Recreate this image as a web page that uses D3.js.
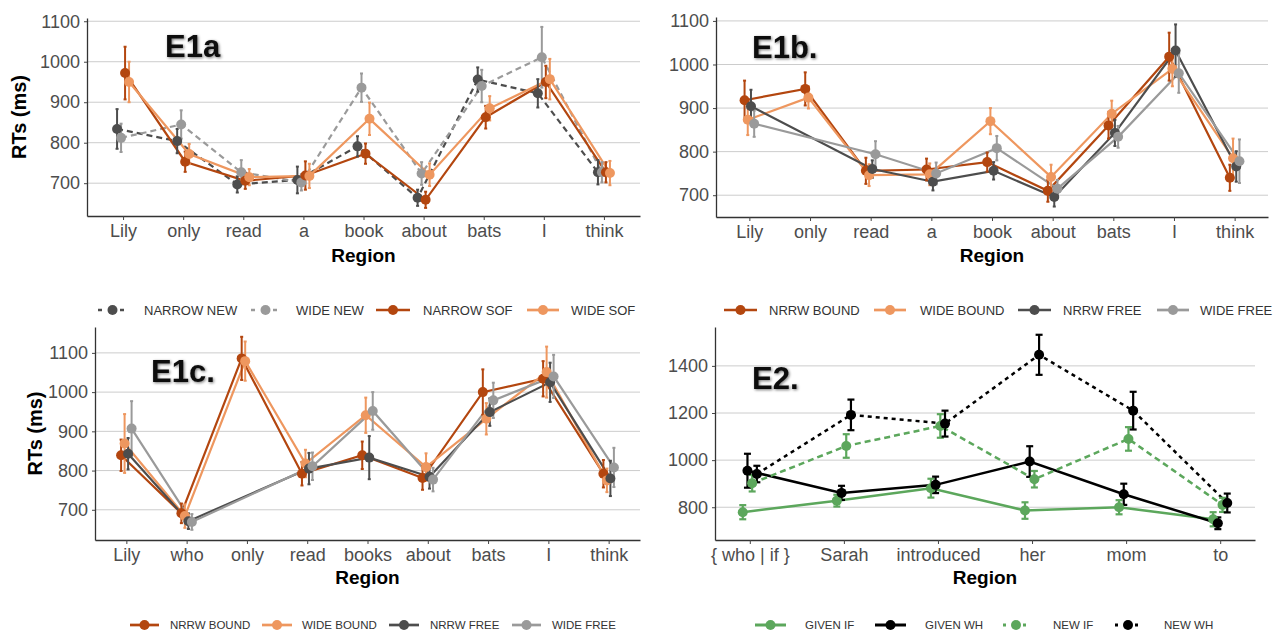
<!DOCTYPE html>
<html>
<head>
<meta charset="utf-8">
<script src="https://cdn.jsdelivr.net/npm/d3@7"></script>
<style>
body { margin: 0; background: #fff; }
text { font-family: "Liberation Sans", Arial, sans-serif; }
</style>
</head>
<body>
<svg id="chart" width="1273" height="633"></svg>
<script>
// ---- E1a ----
var e1aRegions = ["Lily", "only", "read", "a", "book", "about", "bats", "I", "think"];
var e1aNarrowNew    = [834, 804, 697, 708, 791, 664, 956, 922, 727];
var e1aNarrowNewErr = [49, 30, 20, 33, 25, 20, 30, 35, 30];
var e1aWideNew      = [812, 845, 727, 702, 936, 724, 940, 1011, 727];
var e1aWideNewErr   = [35, 35, 30, 20, 35, 28, 40, 75, 25];
var e1aNarrowSof    = [972, 753, 706, 719, 773, 659, 863, 950, 727];
var e1aNarrowSofErr = [65, 25, 20, 35, 25, 20, 28, 40, 25];
var e1aWideSof      = [950, 772, 715, 718, 859, 721, 885, 957, 725];
var e1aWideSofErr   = [50, 25, 20, 30, 40, 28, 30, 50, 30];

// ---- E1b ----
var e1bRegions = ["Lily", "only", "read", "a", "book", "about", "bats", "I", "think"];
var e1bNrrwBound    = [918, 944, 756, 759, 776, 710, 860, 1018, 740];
var e1bNrrwBoundErr = [45, 38, 30, 25, 22, 25, 30, 55, 30];
var e1bWideBound    = [873, 924, 746, 748, 870, 742, 887, 990, 785];
var e1bWideBoundErr = [35, 25, 25, 25, 30, 28, 30, 40, 45];
var e1bNrrwFree     = [904, null, 760, 731, 756, 696, 843, 1032, 766];
var e1bNrrwFreeErr  = [38, null, 20, 20, 20, 22, 30, 60, 35];
var e1bWideFree     = [864, null, 794, 750, 808, 715, 834, 980, 778];
var e1bWideFreeErr  = [30, null, 30, 25, 28, 20, 25, 45, 50];

// ---- E1c ----
var e1cRegions = ["Lily", "who", "only", "read", "books", "about", "bats", "I", "think"];
var e1cNrrwBound    = [839, 691, 1086, 792, 839, 781, 1000, 1034, 792];
var e1cNrrwBoundErr = [40, 25, 55, 30, 35, 30, 58, 45, 35];
var e1cWideBound    = [869, 684, 1079, 818, 941, 809, 932, 1051, 775];
var e1cWideBoundErr = [75, 30, 50, 35, 45, 35, 40, 65, 30];
var e1cNrrwFree     = [843, 671, null, 805, 833, 784, 949, 1025, 780];
var e1cNrrwFreeErr  = [40, 20, null, 40, 55, 30, 35, 50, 45];
var e1cWideFree     = [907, 669, null, 811, 952, 777, 979, 1040, 808];
var e1cWideFreeErr  = [70, 20, null, 35, 48, 30, 45, 55, 50];

// ---- E2 ----
var e2Regions = ["{ who | if }", "Sarah", "introduced", "her", "mom", "to"];
var e2GivenIf     = [779, 828, 881, 786, 800, 749];
var e2GivenIfErr  = [30, 25, 40, 35, 30, 30];
var e2GivenWh     = [955, 861, 895, 994, 855, 732];
var e2GivenWhErr  = [72, 30, 35, 65, 45, 25];
var e2NewIf       = [902, 1060, 1145, 919, 1090, 810];
var e2NewIfErr    = [35, 50, 50, 35, 50, 30];
var e2NewWh       = [941, 1192, 1155, 1447, 1210, 818];
var e2NewWhErr    = [35, 65, 55, 85, 80, 40];

var e1Ticks = [700, 800, 900, 1000, 1100];
var e2Ticks = [800, 1000, 1200, 1400];

var darkOrange = "#b3460f";
var lightOrange = "#ee975f";
var darkGray = "#4d4d4d";
var lightGray = "#9a9a9a";
var green = "#5ca75c";

var svg = d3.select("#chart");
svg.append("rect").attr("width", 1273).attr("height", 633).attr("fill", "#fff");

var defs = svg.append("defs");
var f = defs.append("filter").attr("id", "glow").attr("x", "-20%").attr("y", "-20%").attr("width", "140%").attr("height", "140%");
f.append("feGaussianBlur").attr("in", "SourceAlpha").attr("stdDeviation", 1.6).attr("result", "b");
f.append("feOffset").attr("in", "b").attr("dx", 1).attr("dy", 1).attr("result", "o");
f.append("feComponentTransfer").attr("in", "o").attr("result", "s")
  .append("feFuncA").attr("type", "linear").attr("slope", 0.55);
var fm = f.append("feMerge");
fm.append("feMergeNode").attr("in", "s");
fm.append("feMergeNode").attr("in", "SourceGraphic");

function drawPanel(p) {
  var g = svg.append("g");
  var x = d3.scalePoint().domain(p.regions).range([p.left, p.right]).padding(p.pad);
  var y = d3.scaleLinear().domain(p.yDomain).range([p.bottom, p.top]);

  // grid
  g.selectAll(".grid").data(p.yTicks).enter().append("line")
    .attr("x1", p.left).attr("x2", p.right)
    .attr("y1", d => y(d)).attr("y2", d => y(d))
    .attr("stroke", "#cccccc").attr("stroke-width", 1);

  // axes
  var xg = g.append("g").attr("transform", "translate(0," + p.bottom + ")")
    .call(d3.axisBottom(x).tickSize(4).tickPadding(4).tickSizeOuter(0));
  var yg = g.append("g").attr("transform", "translate(" + p.left + ",0)")
    .call(d3.axisLeft(y).tickValues(p.yTicks).tickFormat(d3.format("d")).tickSize(3).tickPadding(4).tickSizeOuter(0));
  [xg, yg].forEach(function(a) {
    a.select(".domain").attr("stroke", "#333").attr("stroke-width", 1.3);
    a.selectAll(".tick line").attr("stroke", "#444");
    a.selectAll(".tick text").attr("fill", "#4d4d4d").style("font-size", "18px");
  });

  var off = function(i) { return (i - (p.series.length - 1) / 2) * p.dodge; };

  var line = d3.line()
    .x(d => x(d.r) + d.o)
    .y(d => y(d.v));

  var rows = p.series.map(function(s, si) {
    return p.regions.map(function(r, i) {
      return { r: r, v: s.values[i], e: s.errs[i], o: off(si) };
    }).filter(d => d.v != null);
  });

  // lines (missing regions are skipped, the line joins the neighbours)
  p.series.forEach(function(s, si) {
    g.append("path")
      .datum(rows[si])
      .attr("d", line)
      .attr("fill", "none")
      .attr("stroke", s.color)
      .attr("stroke-width", p.lw)
      .attr("stroke-dasharray", s.dash || null);
  });

  // error bars
  p.series.forEach(function(s, si) {
    var eb = g.append("g").selectAll("g").data(rows[si]).enter().append("g");
    eb.append("line")
      .attr("x1", d => x(d.r) + d.o).attr("x2", d => x(d.r) + d.o)
      .attr("y1", d => y(d.v - d.e)).attr("y2", d => y(d.v + d.e))
      .attr("stroke", s.color).attr("stroke-width", p.ebw);
    [-1, 1].forEach(function(sign) {
      eb.append("line")
        .attr("x1", d => x(d.r) + d.o - p.cap).attr("x2", d => x(d.r) + d.o + p.cap)
        .attr("y1", d => y(d.v + sign * d.e)).attr("y2", d => y(d.v + sign * d.e))
        .attr("stroke", s.color).attr("stroke-width", p.ebw);
    });
  });

  // points
  p.series.forEach(function(s, si) {
    g.append("g").selectAll("circle").data(rows[si]).enter().append("circle")
      .attr("cx", d => x(d.r) + d.o)
      .attr("cy", d => y(d.v))
      .attr("r", p.pr)
      .attr("fill", s.color);
  });

  // panel title
  g.append("text").attr("x", p.titleX).attr("y", p.titleY)
    .attr("filter", "url(#glow)")
    .style("font-size", "31px").style("font-weight", "bold").attr("fill", "#111")
    .text(p.title);

  // axis titles
  g.append("text").attr("x", (p.left + p.right) / 2).attr("y", p.regionY)
    .attr("text-anchor", "middle").style("font-size", "19px").style("font-weight", "bold")
    .text("Region");
  if (p.ylab) {
    g.append("text")
      .attr("transform", "translate(" + p.ylabX + "," + ((p.top + p.bottom) / 2) + ") rotate(-90)")
      .attr("text-anchor", "middle").attr("dy", "0.35em")
      .style("font-size", "20px").style("font-weight", "bold")
      .text("RTs (ms)");
  }

  // legend
  var lg = g.append("g").attr("transform", "translate(0," + p.legendY + ")");
  p.series.forEach(function(s, si) {
    var it = p.legendX[si];
    lg.append("line").attr("x1", it[0]).attr("x2", it[1]).attr("y1", 0).attr("y2", 0)
      .attr("stroke", s.color).attr("stroke-width", p.lw + 0.5)
      .attr("stroke-dasharray", s.dash ? s.legendDash : null);
    lg.append("circle").attr("cx", (it[0] + it[1]) / 2).attr("cy", 0).attr("r", p.pr).attr("fill", s.color);
    lg.append("text").attr("x", it[2]).attr("y", 0).attr("dy", "0.36em")
      .style("font-size", p.legendFont + "px").attr("fill", "#333")
      .text(s.name);
  });
}

drawPanel({
  title: "E1a", titleX: 165, titleY: 57,
  regions: e1aRegions, left: 87, right: 640, pad: 0.6,
  top: 18, bottom: 216, yDomain: [619, 1108], yTicks: e1Ticks,
  dodge: 4, lw: 2.2, ebw: 2, cap: 1.5, pr: 5,
  regionY: 262, ylab: true, ylabX: 19,
  legendY: 310, legendFont: 13,
  legendX: [[98, 127, 144], [251, 280, 296], [376, 410, 423], [527, 559, 571]],
  series: [
    { name: "NARROW NEW", values: e1aNarrowNew, errs: e1aNarrowNewErr, color: darkGray, dash: "6,4", legendDash: "4,7" },
    { name: "WIDE NEW", values: e1aWideNew, errs: e1aWideNewErr, color: lightGray, dash: "6,4", legendDash: "4,7" },
    { name: "NARROW SOF", values: e1aNarrowSof, errs: e1aNarrowSofErr, color: darkOrange },
    { name: "WIDE SOF", values: e1aWideSof, errs: e1aWideSofErr, color: lightOrange }
  ]
});

drawPanel({
  title: "E1b.", titleX: 752, titleY: 58,
  regions: e1bRegions, left: 716, right: 1268, pad: 0.55,
  top: 17, bottom: 217, yDomain: [650, 1109], yTicks: e1Ticks,
  dodge: 3.2, lw: 2.2, ebw: 2, cap: 1.5, pr: 5,
  regionY: 262, ylab: false,
  legendY: 310, legendFont: 13,
  legendX: [[724, 757, 769], [874, 906, 920], [1018, 1051, 1063], [1157, 1189, 1200]],
  series: [
    { name: "NRRW BOUND", values: e1bNrrwBound, errs: e1bNrrwBoundErr, color: darkOrange },
    { name: "WIDE BOUND", values: e1bWideBound, errs: e1bWideBoundErr, color: lightOrange },
    { name: "NRRW FREE", values: e1bNrrwFree, errs: e1bNrrwFreeErr, color: darkGray },
    { name: "WIDE FREE", values: e1bWideFree, errs: e1bWideFreeErr, color: lightGray }
  ]
});

drawPanel({
  title: "E1c.", titleX: 151, titleY: 382,
  regions: e1cRegions, left: 95, right: 640, pad: 0.52,
  top: 327, bottom: 540, yDomain: [623, 1166], yTicks: e1Ticks,
  dodge: 3.5, lw: 2.2, ebw: 2, cap: 1.5, pr: 5,
  regionY: 584, ylab: true, ylabX: 35,
  legendY: 625, legendFont: 11.5,
  legendX: [[130, 159, 170], [262, 292, 302], [389, 419, 430], [512, 541, 552]],
  series: [
    { name: "NRRW BOUND", values: e1cNrrwBound, errs: e1cNrrwBoundErr, color: darkOrange },
    { name: "WIDE BOUND", values: e1cWideBound, errs: e1cWideBoundErr, color: lightOrange },
    { name: "NRRW FREE", values: e1cNrrwFree, errs: e1cNrrwFreeErr, color: darkGray },
    { name: "WIDE FREE", values: e1cWideFree, errs: e1cWideFreeErr, color: lightGray }
  ]
});

drawPanel({
  title: "E2.", titleX: 752, titleY: 389,
  regions: e2Regions, left: 715, right: 1255, pad: 0.37,
  top: 327, bottom: 540, yDomain: [661, 1565], yTicks: e2Ticks,
  dodge: 4.7, lw: 2.5, ebw: 2.2, cap: 3.5, pr: 5,
  regionY: 584, ylab: false,
  legendY: 625, legendFont: 11.5,
  legendX: [[755, 786, 805], [875, 906, 925], [1003, 1029, 1053], [1115, 1141, 1164]],
  series: [
    { name: "GIVEN IF", values: e2GivenIf, errs: e2GivenIfErr, color: green },
    { name: "GIVEN WH", values: e2GivenWh, errs: e2GivenWhErr, color: "#000" },
    { name: "NEW IF", values: e2NewIf, errs: e2NewIfErr, color: green, dash: "6,4", legendDash: "3,7" },
    { name: "NEW WH", values: e2NewWh, errs: e2NewWhErr, color: "#000", dash: "4,4", legendDash: "3,7" }
  ]
});
</script>
</body>
</html>
